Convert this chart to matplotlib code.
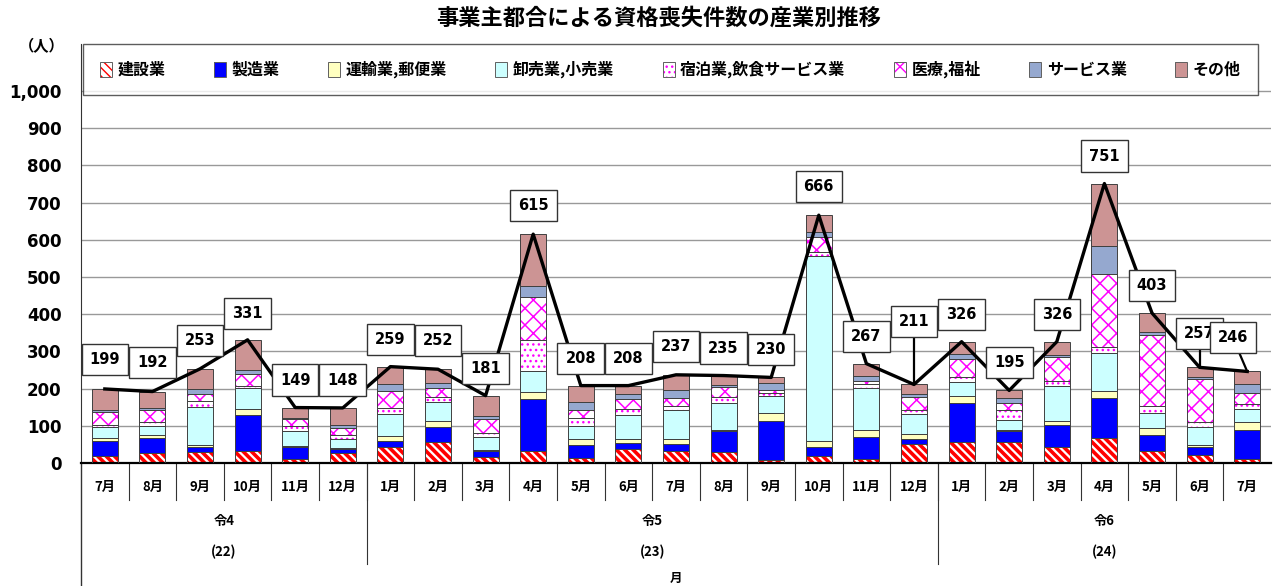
import numpy as np
import matplotlib.pyplot as plt
from matplotlib.patches import Patch

plt.rcParams['font.family'] = ['DejaVu Sans', 'Noto Sans CJK JP']
plt.rcParams['hatch.linewidth'] = 1.0
cjk = ['Noto Sans CJK JP', 'DejaVu Sans']

# months on the x axis, grouped by year
months = ['7月', '8月', '9月', '10月', '11月', '12月',
          '1月', '2月', '3月', '4月', '5月', '6月', '7月', '8月', '9月', '10月', '11月', '12月',
          '1月', '2月', '3月', '4月', '5月', '6月', '7月']
years = ['令4', '令5', '令6']
year_nums = ['(22)', '(23)', '(24)']
year_counts = [6, 12, 7]

# stacked series (people), bottom to top
construction = [19, 26, 29, 33, 10, 26, 42, 56, 17, 32, 14, 37, 33, 29, 8, 19, 12, 51, 56, 56, 42, 66, 32, 21, 10]
manufacturing = [41, 40, 14, 97, 33, 11, 16, 42, 14, 139, 34, 16, 18, 56, 104, 23, 59, 14, 104, 29, 60, 108, 42, 21, 79]
transport = [6, 9, 5, 16, 4, 4, 15, 16, 5, 19, 17, 12, 14, 5, 23, 18, 19, 13, 21, 5, 12, 20, 20, 6, 20]
retail = [30, 24, 103, 55, 39, 24, 59, 49, 33, 58, 34, 64, 78, 70, 45, 496, 111, 53, 36, 26, 94, 101, 40, 48, 36]
hospitality = [6, 12, 16, 6, 13, 10, 15, 15, 11, 83, 21, 15, 11, 18, 8, 12, 10, 11, 13, 26, 13, 16, 20, 15, 14]
medical = [36, 31, 18, 32, 19, 18, 47, 23, 37, 116, 22, 28, 22, 25, 7, 40, 10, 36, 49, 18, 63, 196, 190, 115, 28]
services = [4, 6, 15, 11, 4, 8, 17, 13, 8, 30, 21, 13, 19, 6, 19, 14, 14, 7, 14, 14, 5, 76, 9, 4, 24]
other = [57, 44, 53, 81, 27, 47, 48, 38, 56, 138, 45, 23, 42, 26, 16, 44, 32, 26, 33, 21, 37, 168, 50, 27, 35]
totals = [199, 192, 253, 331, 149, 148, 259, 252, 181, 615, 208, 208, 237, 235, 230, 666, 267, 211, 326, 195, 326, 751, 403, 257, 246]

names = ['建設業', '製造業', '運輸業,郵便業', '卸売業,小売業', '宿泊業,飲食サービス業', '医療,福祉', 'サービス業', 'その他']
series = [construction, manufacturing, transport, retail, hospitality, medical, services, other]

# style per series: face, hatch, hatch color, hatch width
styles = [('white', '\\\\\\\\', '#FF0000', 2.6),
          ('#0000FF', None, None, 0),
          ('#FFFFC0', None, None, 0),
          ('#CCFFFF', None, None, 0),
          ('white', '...', '#FF00FF', 1.0),
          ('white', 'xx', '#FF00FF', 1.1),
          ('#95A8CF', None, None, 0),
          ('#CC9494', None, None, 0)]

# data-label placement (box centre) and which ones get a leader line
label_y = [277, 269, 328, 403, 223, 223, 333, 328, 255, 693, 282, 282, 312, 309, 304,
           742, 341, 379, 400, 271, 400, 825, 478, 349, 336]
label_dx = [0] * 24 + [-0.3]
leaders = [17, 23, 24]

fig = plt.figure(figsize=(12.79, 5.86), dpi=100)
ax = fig.add_axes([81 / 1279, 123 / 586, 1190 / 1279, 419 / 586])

x = np.arange(len(months))
bottom = np.zeros(len(months))
handles = []
for vals, (fc, hatch, hc, hlw) in zip(series, styles):
    with plt.rc_context({'hatch.linewidth': hlw if hatch else 1.0}):
        fill = ax.bar(x, vals, 0.55, bottom=bottom, color=fc, hatch=hatch,
                      edgecolor=hc if hatch else fc, linewidth=0, zorder=2)
    if hatch:
        for p in fill:
            if hasattr(p, 'set_hatch_linewidth'):
                p.set_hatch_linewidth(hlw)
    ax.bar(x, vals, 0.55, bottom=bottom, fill=False, edgecolor='#404040',
           linewidth=0.7, zorder=3)
    h1 = Patch(facecolor=fc, hatch=hatch, edgecolor=hc if hatch else fc, linewidth=0)
    if hatch and hasattr(h1, 'set_hatch_linewidth'):
        h1.set_hatch_linewidth(hlw)
    h2 = Patch(fill=False, edgecolor='#606060', linewidth=0.7)
    handles.append((h1, h2))
    bottom += np.array(vals)

ax.plot(x, totals, color='black', lw=2.4, zorder=4)

for i, t in enumerate(totals):
    lx = i + label_dx[i]
    if i in leaders:
        ax.plot([lx, i], [label_y[i], t], color='black', lw=1.6, zorder=4)
    ax.text(lx, label_y[i], str(t), ha='center', va='center', fontsize=10.5,
            fontweight='bold', zorder=6,
            bbox=dict(boxstyle='square,pad=0.55', fc='white', ec='#333333', lw=1.0))

ax.set_xlim(-0.5, len(months) - 0.5)
ax.set_ylim(0, 1126)
ax.set_yticks(range(0, 1001, 100))
ax.set_yticklabels([f'{v:,}' for v in range(0, 1001, 100)], fontsize=12, fontweight='bold')
ax.tick_params(axis='y', length=0, pad=14)
ax.set_xticks([])
ax.grid(axis='y', color='#999999', lw=1.0, zorder=0)
ax.set_axisbelow(True)
for s in ['top', 'right']:
    ax.spines[s].set_visible(False)
ax.spines['left'].set_color('#333333')
ax.spines['bottom'].set_linewidth(1.6)

# category table below the axis
tr = ax.get_xaxis_transform()
for i, m in enumerate(months):
    ax.text(i, -0.057, m, transform=tr, ha='center', va='center', fontsize=9.5,
            fontweight='bold', family=cjk)
for i in range(1, len(months)):
    ax.plot([i - 0.5, i - 0.5], [0, -0.088], transform=tr, color='#333333', lw=0.8, clip_on=False)
start = -0.5
for yl, yn, c in zip(years, year_nums, year_counts):
    mid = start + c / 2
    ax.text(mid, -0.138, yl, transform=tr, ha='center', va='center', fontsize=9.5,
            fontweight='bold', family=cjk)
    ax.text(mid, -0.212, yn, transform=tr, ha='center', va='center', fontsize=9.5,
            fontweight='bold', family=cjk)
    start += c
    if start < len(months) - 0.5:
        ax.plot([start, start], [0, -0.241], transform=tr, color='#333333', lw=0.8, clip_on=False)
ax.plot([-0.5, -0.5], [0, -0.3], transform=tr, color='#333333', lw=1.0, clip_on=False)
ax.text(12, -0.29, '月', transform=tr, ha='center', va='bottom', fontsize=9,
        fontweight='bold', family=cjk)

leg = ax.legend(handles, names, loc='upper left', bbox_to_anchor=(0.0017, 0.876, 0.987, 0.124),
                mode='expand', ncol=8, frameon=True, fancybox=False, borderpad=1.05,
                borderaxespad=0, handlelength=0.75, handleheight=1.0, handletextpad=0.35,
                prop={'family': cjk, 'weight': 'bold', 'size': 11.5})
leg.get_frame().set_edgecolor('#333333')
leg.get_frame().set_linewidth(1.0)
leg.set_zorder(7)

fig.text(0.515, 0.969, '事業主都合による資格喪失件数の産業別推移', ha='center', va='center',
         fontsize=16, fontweight='bold', family=cjk)
fig.text(0.033, 0.921, '（人）', ha='center', va='center', fontsize=11,
         fontweight='bold', family=cjk)

fig.savefig('out.png', dpi=100)
